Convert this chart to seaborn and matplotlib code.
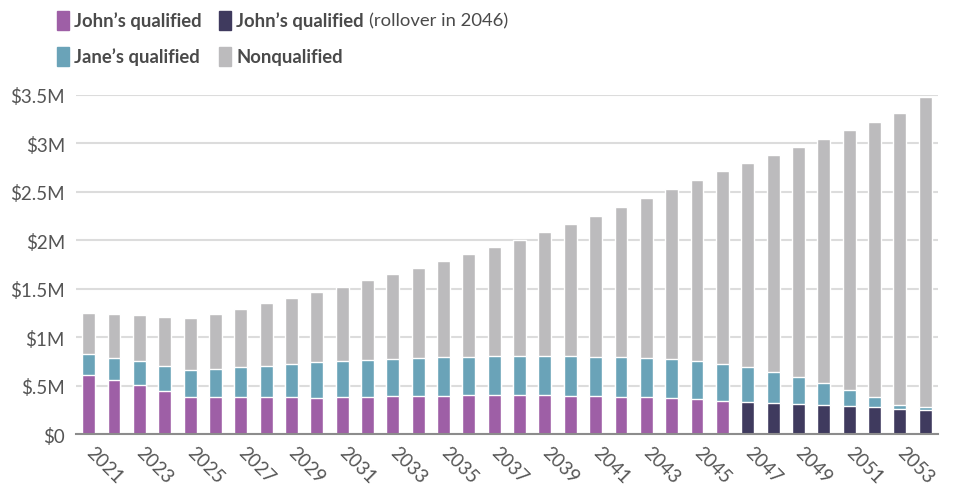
import matplotlib
matplotlib.use("Agg")
import matplotlib.pyplot as plt
from matplotlib.patches import Rectangle
import pandas as pd
import seaborn as sns

# ── Data (values in $ thousands) ─────────────────────────────────────────────
YEARS = list(range(2021, 2055))

JOHN_QUAL = [612, 557, 505, 443, 382, 382, 382, 382, 382, 371, 382, 382, 392, 392,
             392, 402, 402, 402, 402, 392, 392, 382, 382, 371, 361, 340,
             0, 0, 0, 0, 0, 0, 0, 0]
JOHN_ROLLOVER = [0] * 26 + [330, 320, 309, 299, 289, 278, 258, 248]
JANE_QUAL = [213, 227, 248, 258, 278, 288, 309, 319, 340, 372, 371, 381, 381, 392,
             402, 392, 402, 402, 402, 412, 402, 412, 402, 402, 392, 382,
             361, 319, 279, 227, 165, 104, 41, 30]
NONQUAL = [423, 454, 474, 506, 536, 568, 598, 650, 681, 721, 763, 825, 877, 928,
           990, 1062, 1124, 1197, 1279, 1362, 1454, 1547, 1650, 1754, 1866, 1990,
           2104, 2238, 2372, 2516, 2681, 2836, 3011, 3197]

Y_TICKS = [0, 500, 1000, 1500, 2000, 2500, 3000, 3500]
Y_LABELS = ["$0", "$.5M", "$1M", "$1.5M", "$2M", "$2.5M", "$3M", "$3.5M"]

# ── Colours ──────────────────────────────────────────────────────────────────
C_JOHN = "#9e5fa6"
C_ROLL = "#3f3a5e"
C_JANE = "#6aa3b8"
C_NONQ = "#bcbbbd"
C_TEXT = "#4a4a4a"

# ── Build stacked tops ───────────────────────────────────────────────────────
df = pd.DataFrame({
    "year": [str(y) for y in YEARS],
    "john": JOHN_QUAL,
    "roll": JOHN_ROLLOVER,
    "jane": JANE_QUAL,
    "nonq": NONQUAL,
})
df["base"] = df["john"] + df["roll"]
df["jane_top"] = df["base"] + df["jane"]
df["total"] = df["jane_top"] + df["nonq"]

sns.set_style("white")
plt.rcParams["font.family"] = ["Lato", "DejaVu Sans"]

fig = plt.figure(figsize=(9.56, 4.89), dpi=100)
ax = fig.add_axes([0.0795, 0.1104, 0.9015, 0.6936])

order = df["year"].tolist()
bar_kw = dict(order=order, width=0.51, saturation=1, errorbar=None, ax=ax, zorder=2)
sns.barplot(data=df, x="year", y="total", color=C_NONQ, **bar_kw)
sns.barplot(data=df, x="year", y="jane_top", color=C_JANE, **bar_kw)
sns.barplot(data=df, x="year", y="john", color=C_JOHN, **bar_kw)
sns.barplot(data=df, x="year", y="roll", color=C_ROLL, **bar_kw)

ax.set_xlim(-0.5, len(YEARS) - 0.5)
ax.set_ylim(0, 3500)
ax.set_yticks(Y_TICKS)
ax.set_yticklabels(Y_LABELS, fontsize=13.5, color="#555555")
ax.yaxis.grid(True, color="#dcdcdc", linewidth=1.5, zorder=0)
ax.set_axisbelow(True)
ax.tick_params(axis="y", length=0, pad=8)

ax.set_xticks(range(len(YEARS)))
ax.set_xticklabels([y if i % 2 == 0 else "" for i, y in enumerate(order)],
                   rotation=-45, ha="left", va="center", rotation_mode="anchor",
                   fontsize=13.5, color="#555555")
ax.tick_params(axis="x", length=5, width=1.2, color="#8c8c8c", pad=6)

for side in ["top", "right", "left"]:
    ax.spines[side].set_visible(False)
ax.spines["bottom"].set_color("#8c8c8c")
ax.spines["bottom"].set_linewidth(1.5)
ax.set_xlabel("")
ax.set_ylabel("")

# ── Legend (drawn by hand for the mixed-weight label) ────────────────────────
W, H = 956, 489
def swatch(x, y, color):
    fig.patches.append(Rectangle((x / W, 1 - (y + 19) / H), 12 / W, 19 / H,
                                 transform=fig.transFigure, color=color))

swatch(57, 12, C_JOHN)
swatch(219, 12, C_ROLL)
swatch(57, 48, C_JANE)
swatch(219, 48, C_NONQ)

lg = dict(fontsize=13.3, color=C_TEXT, va="center")
fig.text(74 / W, 1 - 21 / H, "John\u2019s qualified", fontweight="bold", **lg)
t = fig.text(236 / W, 1 - 21 / H, "John\u2019s qualified", fontweight="bold", **lg)
fig.canvas.draw()
bb = t.get_window_extent()
fig.text((bb.x1 + 5) / W, 1 - 21 / H, "(rollover in 2046)", **lg)
fig.text(74 / W, 1 - 57 / H, "Jane\u2019s qualified", fontweight="bold", **lg)
fig.text(236 / W, 1 - 57 / H, "Nonqualified", fontweight="bold", **lg)

fig.savefig("out.png", dpi=100)
